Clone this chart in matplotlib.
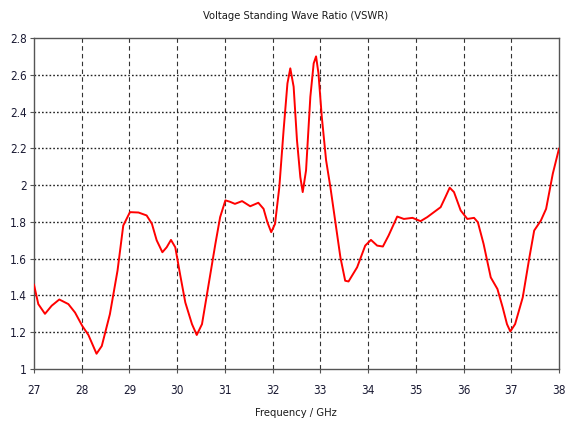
import matplotlib
matplotlib.use("Agg")
import matplotlib.pyplot as plt
from matplotlib import font_manager

freq_ghz = [27.00, 27.09, 27.23, 27.37, 27.53, 27.72, 27.86, 28.01, 28.14, 28.31,
            28.42, 28.59, 28.75, 28.87, 29.01, 29.19, 29.36, 29.47, 29.57, 29.69,
            29.78, 29.87, 29.96, 30.06, 30.17, 30.31, 30.41, 30.52, 30.66, 30.80,
            30.90, 31.01, 31.10, 31.21, 31.36, 31.53, 31.70, 31.81, 31.89, 31.97,
            32.05, 32.14, 32.23, 32.31, 32.37, 32.44, 32.51, 32.58, 32.63, 32.70,
            32.79, 32.86, 32.91, 32.96, 33.03, 33.12, 33.21, 33.31, 33.42, 33.52,
            33.59, 33.77, 33.94, 34.06, 34.19, 34.31, 34.43, 34.61, 34.75, 34.93,
            35.10, 35.24, 35.38, 35.52, 35.62, 35.71, 35.80, 35.94, 36.08, 36.22,
            36.30, 36.42, 36.57, 36.71, 36.82, 36.91, 36.98, 37.08, 37.24, 37.38,
            37.48, 37.62, 37.73, 37.87, 38.00]
vswr = [1.458, 1.353, 1.300, 1.344, 1.378, 1.353, 1.307, 1.235, 1.185, 1.083,
        1.125, 1.298, 1.535, 1.780, 1.853, 1.851, 1.835, 1.790, 1.700, 1.635,
        1.662, 1.702, 1.662, 1.516, 1.362, 1.244, 1.185, 1.244, 1.462, 1.680,
        1.826, 1.917, 1.910, 1.898, 1.913, 1.885, 1.904, 1.871, 1.798, 1.744,
        1.789, 1.989, 2.300, 2.553, 2.635, 2.535, 2.244, 2.044, 1.962, 2.080,
        2.480, 2.662, 2.700, 2.608, 2.371, 2.135, 1.989, 1.807, 1.607, 1.480,
        1.476, 1.553, 1.671, 1.702, 1.671, 1.666, 1.726, 1.829, 1.816, 1.822,
        1.804, 1.826, 1.853, 1.880, 1.935, 1.986, 1.962, 1.862, 1.816, 1.822,
        1.798, 1.680, 1.498, 1.435, 1.335, 1.244, 1.204, 1.244, 1.389, 1.607,
        1.753, 1.807, 1.871, 2.062, 2.198]

x_ticks = [27, 28, 29, 30, 31, 32, 33, 34, 35, 36, 37, 38]
y_ticks = [1.0, 1.2, 1.4, 1.6, 1.8, 2.0, 2.2, 2.4, 2.6, 2.8]
y_tick_labels = ["1", "1.2", "1.4", "1.6", "1.8", "2", "2.2", "2.4", "2.6", "2.8"]
title = "Voltage Standing Wave Ratio (VSWR)"
xlabel = "Frequency / GHz"

# pick the narrowest available font
names = {f.name for f in font_manager.fontManager.ttflist}
if 'Liberation Sans Narrow' in names:
    plt.rcParams['font.family'] = ['Liberation Sans Narrow', 'DejaVu Sans']
else:
    plt.rcParams['font.family'] = ['DejaVu Sans']
    plt.rcParams['font.stretch'] = 'condensed'

fig = plt.figure(figsize=(5.67, 4.32), dpi=100)
ax = fig.add_axes([34/567, 1 - 369/432, (559-34)/567, (369-38)/432])

ax.plot(freq_ghz, vswr, color='#ff0000', linewidth=1.4, zorder=3)
ax.set_xlim(27, 38)
ax.set_ylim(1.0, 2.8)
ax.set_xticks(x_ticks)
ax.set_xticklabels([str(t) for t in x_ticks])
ax.set_yticks(y_ticks)
ax.set_yticklabels(y_tick_labels)

for x in x_ticks[1:-1]:
    ax.axvline(x, color='#333333', linestyle=(0, (4, 3)), linewidth=0.8, zorder=1)
for y in y_ticks[1:-1]:
    ax.axhline(y, color='#222222', linestyle=(0, (1.2, 1.5)), linewidth=1.0, zorder=1)

for s in ax.spines.values():
    s.set_color('#555555')
    s.set_linewidth(1.0)

ax.tick_params(axis='both', direction='out', length=3, width=0.8, color='#555555',
               labelsize=8.5, labelcolor='#1a1a33')
ax.tick_params(axis='x', pad=8)
ax.tick_params(axis='y', pad=2)

fig.text(296/567, 1 - 16/432, title, ha='center', va='center', fontsize=8, color='#1a1a1a')
fig.text(296/567, 1 - 413/432, xlabel, ha='center', va='center', fontsize=8, color='#1a1a1a')

fig.savefig("out.png", dpi=100)
